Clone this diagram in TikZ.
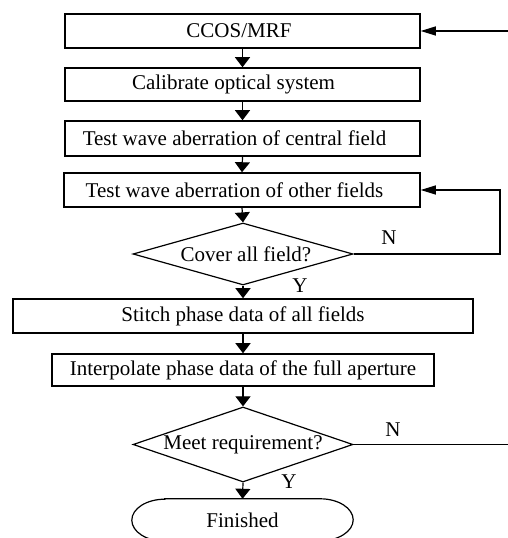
\documentclass[tikz,border=0pt]{standalone}
\usepackage{fontspec}
\setmainfont{Liberation Serif}
\usetikzlibrary{arrows.meta,shapes.geometric}
\begin{document}
\begin{tikzpicture}[x=1pt,y=1pt,
  every node/.style={font=\fontsize{21}{25}\selectfont},
  box/.style={draw,line width=1.5pt,rectangle,inner sep=0pt},
  dec/.style={draw,line width=1.2pt,diamond,inner sep=0pt},
  conn/.style={line width=1.2pt,-{Triangle[width=15pt,length=10pt]}},
  hconn/.style={line width=1.2pt,-{Triangle[width=9pt,length=15pt]}},
  plain/.style={line width=1.2pt}]
\useasboundingbox (0,0) rectangle (508,538);
\node[box,minimum width=355,minimum height=34] (b1) at (242.5,507) {\hspace*{-7pt}CCOS/MRF};
\node[box,minimum width=355,minimum height=33] (b2) at (242.5,453.5) {\hspace*{-18pt}Calibrate optical system};
\node[box,minimum width=355,minimum height=35] (b3) at (242.5,399.5) {\hspace*{-16pt}Test wave aberration of central field};
\node[box,minimum width=356,minimum height=34] (b4) at (242,348) {\hspace*{-15pt}Test wave aberration of other fields};
\node[dec,aspect=3.55,minimum width=220,minimum height=62] (d1) at (243,284) {\hspace*{6pt}Cover all field?};
\node[box,minimum width=460,minimum height=34] (b5) at (243,222) {Stitch phase data of all fields};
\node[box,minimum width=382,minimum height=32] (b6) at (243,168) {Interpolate phase data of the full aperture};
\node[dec,aspect=2.93,minimum width=220,minimum height=75] (d2) at (243,93.5) {Meet requirement?};
\node[rectangle,inner sep=0pt,minimum width=221,minimum height=42] (fin) at (242.5,18) {Finished};
\draw[plain] ([xshift=33pt]fin.north west) -- ([xshift=-33pt]fin.north east)
  arc[start angle=90,end angle=-90,x radius=33pt,y radius=21pt]
  -- ([xshift=33pt]fin.south west)
  arc[start angle=270,end angle=90,x radius=33pt,y radius=21pt] -- cycle;
\node (n1) at (389,300) {N};
\node (y1) at (300,252) {Y};
\node (n2) at (393,108) {N};
\node (y2) at (289,56) {Y};
\coordinate (in1) at (508,507);
\coordinate (out2) at (508,93.5);
\coordinate (cor) at (500,284);
\draw[conn] (b1.south) -- (b2.north);
\draw[conn] (b2.south) -- (b3.north);
\draw[conn] (b3.south) -- (b4.north);
\draw[conn] (b4.south) -- (d1.north);
\draw[conn] (d1.south) -- (b5.north);
\draw[conn] (b5.south) -- (b6.north);
\draw[conn] (b6.south) -- (d2.north);
\draw[conn] (d2.south) -- (fin.north);
\draw[hconn] (in1) -- (b1.east);
\draw[hconn] (d1.east) -- (cor) |- (b4.east);
\draw[plain] (d2.east) -- (out2);
\end{tikzpicture}
\end{document}
